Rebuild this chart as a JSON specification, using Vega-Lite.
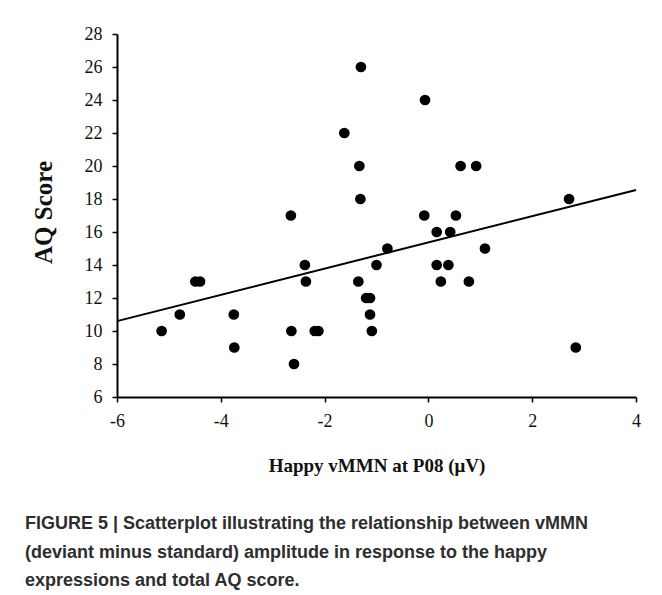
{
  "$schema": "https://vega.github.io/schema/vega-lite/v6.json",
  "width": 519,
  "height": 363,
  "autosize": {"type": "none"},
  "padding": {"left": 117, "top": 34, "right": 26, "bottom": 198},
  "background": "white",
  "config": {
    "view": {"stroke": null},
    "axis": {
      "grid": false,
      "domainColor": "black",
      "domainWidth": 2,
      "tickColor": "black",
      "tickWidth": 1.5,
      "tickSize": 5,
      "labelFont": "Liberation Serif",
      "labelFontSize": 18,
      "labelColor": "#111",
      "labelPadding": 10,
      "labelOverlap": false,
      "titleFont": "Liberation Serif",
      "titleFontWeight": "bold",
      "titleColor": "#111"
    }
  },
  "title": {
    "text": [
      "FIGURE 5 | Scatterplot illustrating the relationship between vMMN",
      "(deviant minus standard) amplitude in response to the happy",
      "expressions and total AQ score."
    ],
    "orient": "bottom",
    "anchor": "start",
    "frame": "group",
    "dx": -92,
    "offset": 40,
    "font": "Liberation Sans",
    "fontSize": 18,
    "fontWeight": "bold",
    "color": "#2e2e2e",
    "lineHeight": 28.5
  },
  "datasets": {
    "points": [
      {"amp": -5.14, "aq": 10}, {"amp": -4.79, "aq": 11}, {"amp": -4.49, "aq": 13}, {"amp": -4.40, "aq": 13},
      {"amp": -3.75, "aq": 11}, {"amp": -3.74, "aq": 9}, {"amp": -2.65, "aq": 17}, {"amp": -2.64, "aq": 10},
      {"amp": -2.59, "aq": 8}, {"amp": -2.38, "aq": 14}, {"amp": -2.36, "aq": 13}, {"amp": -2.19, "aq": 10},
      {"amp": -2.12, "aq": 10}, {"amp": -1.62, "aq": 22}, {"amp": -1.30, "aq": 26}, {"amp": -1.33, "aq": 20},
      {"amp": -1.31, "aq": 18}, {"amp": -1.35, "aq": 13}, {"amp": -1.20, "aq": 12}, {"amp": -1.125, "aq": 12},
      {"amp": -1.125, "aq": 11}, {"amp": -1.09, "aq": 10}, {"amp": -1.0, "aq": 14}, {"amp": -0.79, "aq": 15},
      {"amp": -0.065, "aq": 24}, {"amp": -0.08, "aq": 17}, {"amp": 0.16, "aq": 16}, {"amp": 0.42, "aq": 16},
      {"amp": 0.16, "aq": 14}, {"amp": 0.385, "aq": 14}, {"amp": 0.24, "aq": 13}, {"amp": 0.78, "aq": 13},
      {"amp": 0.53, "aq": 17}, {"amp": 0.62, "aq": 20}, {"amp": 0.92, "aq": 20}, {"amp": 1.09, "aq": 15},
      {"amp": 2.71, "aq": 18}, {"amp": 2.84, "aq": 9}
    ],
    "fit": [
      {"amp": -6, "aq": 10.6},
      {"amp": 4, "aq": 18.55}
    ]
  },
  "encoding": {
    "x": {
      "field": "amp", "type": "quantitative",
      "scale": {"domain": [-6, 4], "nice": false, "zero": false},
      "axis": {
        "values": [-6, -4, -2, 0, 2, 4],
        "labelExpr": "'' + datum.value",
        "title": "Happy vMMN at P08 (μV)",
        "titleFontSize": 19,
        "titleX": 259.5,
        "titleY": 68,
        "titleBaseline": "middle",
        "titleAlign": "center",
        "labelFlush": false
      }
    },
    "y": {
      "field": "aq", "type": "quantitative",
      "scale": {"domain": [6, 28], "nice": false, "zero": false},
      "axis": {
        "values": [6, 8, 10, 12, 14, 16, 18, 20, 22, 24, 26, 28],
        "labelExpr": "'' + datum.value",
        "title": "AQ Score",
        "titleFontSize": 25,
        "titleX": -74,
        "titleY": 178,
        "titleAngle": -90,
        "titleBaseline": "middle",
        "titleAlign": "center",
        "labelFlush": false
      }
    }
  },
  "layer": [
    {
      "data": {"name": "fit"},
      "mark": {"type": "line", "color": "black", "strokeWidth": 2}
    },
    {
      "data": {"name": "points"},
      "mark": {"type": "circle", "color": "black", "opacity": 1, "size": 115}
    }
  ]
}
